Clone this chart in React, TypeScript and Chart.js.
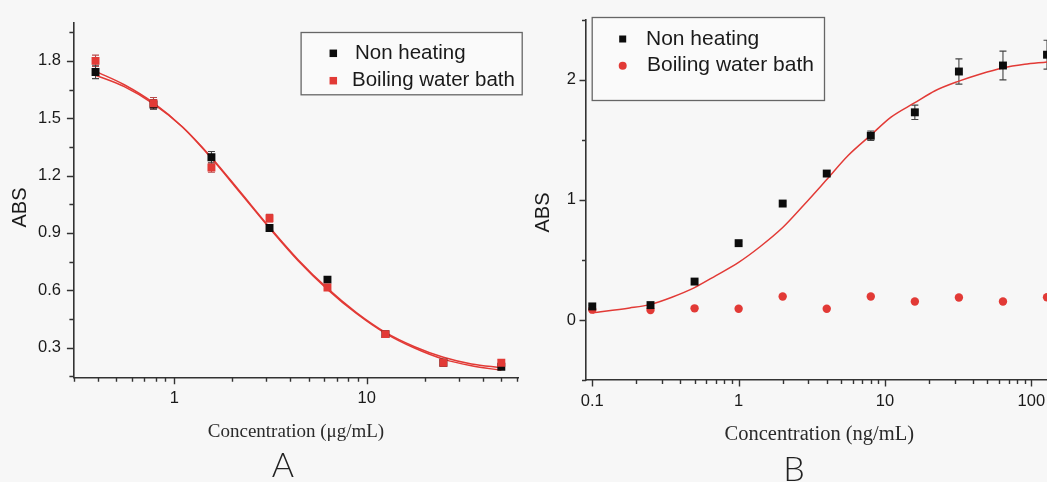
import React, { useEffect, useRef } from "react";
import { Chart, registerables } from "chart.js";

Chart.register(...registerables);

// ---------------- Panel A data (µg/mL) ----------------
const concA = [0.39, 0.78, 1.56, 3.125, 6.25, 12.5, 25, 50];
const absA_nonHeating = [1.742, 1.572, 1.296, 0.926, 0.656, 0.371, 0.221, 0.2];
const errA_nonHeating = [0.035, 0.025, 0.03, 0.015, 0.012, 0.01, 0.01, 0.01];
const absA_boiling = [1.8, 1.578, 1.242, 0.977, 0.615, 0.371, 0.221, 0.221];
const errA_boiling = [0.03, 0.03, 0.025, 0.02, 0.015, 0.01, 0.015, 0.015];
const fitA_x = [0.39, 0.55, 0.78, 1.1, 1.56, 2.2, 3.125, 4.4, 6.25, 8.8, 12.5, 17.7, 25, 35, 50];
const fitA_nonHeating = [1.725, 1.665, 1.575, 1.455, 1.295, 1.115, 0.93, 0.76, 0.61, 0.485, 0.38, 0.305, 0.25, 0.215, 0.195];
const fitA_boiling = [1.745, 1.675, 1.58, 1.455, 1.29, 1.11, 0.925, 0.755, 0.605, 0.48, 0.375, 0.298, 0.24, 0.205, 0.182];
const yTicksA = [0.3, 0.6, 0.9, 1.2, 1.5, 1.8];
const xTicksA = [1, 10];

// ---------------- Panel B data (ng/mL) ----------------
const concB = [0.1, 0.25, 0.5, 1, 2, 4, 8, 16, 32, 64, 128];
const absB_nonHeating = [0.113, 0.124, 0.32, 0.64, 0.97, 1.22, 1.535, 1.73, 2.07, 2.12, 2.21];
const errB_nonHeating = [0.01, 0.01, 0.015, 0.015, 0.015, 0.02, 0.04, 0.06, 0.105, 0.12, 0.12];
const absB_boiling = [0.086, 0.083, 0.097, 0.094, 0.196, 0.094, 0.196, 0.154, 0.187, 0.154, 0.19];
const fitB_x = [0.1, 0.18, 0.25, 0.35, 0.5, 0.7, 1, 1.4, 2, 2.8, 4, 5.6, 8, 11, 16, 22, 32, 45, 64, 90, 128, 150];
const fitB_y = [0.06, 0.1, 0.13, 0.19, 0.27, 0.37, 0.48, 0.61, 0.77, 0.96, 1.17, 1.37, 1.54, 1.69, 1.81, 1.91, 1.99, 2.05, 2.1, 2.13, 2.15, 2.16];
const yTicksB = [0, 1, 2];
const xTicksB = [0.1, 1, 10, 100];

const LABEL_NH = "Non heating";
const LABEL_BW = "Boiling water bath";

const RED = "#e23a36";
const BLACK = "#0c0c0c";
const AXIS = "#333333";
const TEXT = "#1a1a1a";

const zip = (xs: number[], ys: number[]) => xs.map((x, i) => ({ x, y: ys[i] }));

function logMinors(min: number, max: number) {
  const out: number[] = [];
  for (let e = -3; e <= 3; e++) {
    for (let m = 1; m <= 9; m++) {
      const v = m * Math.pow(10, e);
      if (m !== 1 && v >= min * 0.999 && v <= max * 1.001) out.push(+v.toPrecision(6));
    }
  }
  return out;
}
function linMinors(min: number, max: number, step: number, offset: number) {
  const out: number[] = [];
  for (let v = offset; v <= max + 1e-9; v += step) if (v >= min - 1e-9) out.push(+v.toFixed(6));
  return out;
}

const errorBarPlugin = {
  id: "errorBars",
  beforeDatasetsDraw(chart: any) {
    const ctx = chart.ctx;
    const xs = chart.scales.x;
    const ys = chart.scales.y;
    chart.data.datasets.forEach((ds: any, i: number) => {
      const errs = ds.errors;
      if (!errs || !chart.isDatasetVisible(i)) return;
      ctx.save();
      ctx.strokeStyle = ds.errorColor || "#555";
      ctx.lineWidth = 1.1;
      ctx.beginPath();
      ds.data.forEach((p: any, j: number) => {
        const e = errs[j];
        if (!e) return;
        const px = xs.getPixelForValue(p.x);
        const y1 = ys.getPixelForValue(p.y + e);
        const y2 = ys.getPixelForValue(p.y - e);
        ctx.moveTo(px, y1);
        ctx.lineTo(px, y2);
        ctx.moveTo(px - 3.5, y1);
        ctx.lineTo(px + 3.5, y1);
        ctx.moveTo(px - 3.5, y2);
        ctx.lineTo(px + 3.5, y2);
      });
      ctx.stroke();
      ctx.restore();
    });
  },
};

const axisTicksPlugin = {
  id: "axisTicks",
  afterDraw(chart: any, _args: any, opts: any) {
    const { ctx, chartArea } = chart;
    const xs = chart.scales.x;
    const ys = chart.scales.y;
    ctx.save();
    ctx.strokeStyle = AXIS;
    ctx.lineWidth = 1.4;
    ctx.beginPath();
    const b = chartArea.bottom;
    const l = chartArea.left;
    (opts.xMajor || []).forEach((v: number) => {
      const p = Math.round(xs.getPixelForValue(v)) + 0.5;
      ctx.moveTo(p, b);
      ctx.lineTo(p, b + 6.5);
    });
    (opts.xMinor || []).forEach((v: number) => {
      const p = Math.round(xs.getPixelForValue(v)) + 0.5;
      ctx.moveTo(p, b);
      ctx.lineTo(p, b + 4);
    });
    (opts.yMajor || []).forEach((v: number) => {
      const p = Math.round(ys.getPixelForValue(v)) + 0.5;
      ctx.moveTo(l, p);
      ctx.lineTo(l - 6.5, p);
    });
    (opts.yMinor || []).forEach((v: number) => {
      const p = Math.round(ys.getPixelForValue(v)) + 0.5;
      ctx.moveTo(l, p);
      ctx.lineTo(l - 4, p);
    });
    ctx.stroke();
    ctx.restore();
  },
};

const textsPlugin = {
  id: "panelTexts",
  afterDraw(chart: any, _args: any, opts: any) {
    const ctx = chart.ctx;
    (opts.items || []).forEach((t: any) => {
      ctx.save();
      ctx.translate(t.x, t.y);
      if (t.rotation) ctx.rotate(t.rotation);
      ctx.font = t.font;
      ctx.fillStyle = t.color || TEXT;
      ctx.textAlign = "center";
      ctx.textBaseline = "middle";
      ctx.fillText(t.text, 0, 0);
      ctx.restore();
    });
  },
};

const boxLegendPlugin = {
  id: "boxLegend",
  afterDraw(chart: any, _args: any, opts: any) {
    const ctx = chart.ctx;
    const [l, t, r, b] = opts.box;
    ctx.save();
    ctx.strokeStyle = "#666";
    ctx.lineWidth = 1.3;
    ctx.fillStyle = "#fafafa";
    ctx.fillRect(l, t, r - l, b - t);
    ctx.strokeRect(l + 0.5, t + 0.5, r - l, b - t);
    opts.entries.forEach((en: any, k: number) => {
      const ds = chart.data.datasets[en.dataset];
      const y = opts.rows[k];
      const mx = opts.markerX;
      ctx.fillStyle = ds.backgroundColor;
      if (ds.pointStyle === "circle") {
        ctx.beginPath();
        ctx.arc(mx, y, en.size / 2, 0, Math.PI * 2);
        ctx.fill();
      } else {
        ctx.fillRect(mx - en.size / 2, y - en.size / 2, en.size, en.size);
      }
      ctx.fillStyle = TEXT;
      ctx.font = opts.font;
      ctx.textAlign = "left";
      ctx.textBaseline = "middle";
      ctx.fillText(ds.label, en.textX, y);
    });
    ctx.restore();
  },
};

function makeOptions(cfg: any) {
  return {
    responsive: false,
    animation: false,
    events: [],
    layout: { padding: cfg.padding },
    plugins: {
      legend: { display: false },
      tooltip: { enabled: false },
      axisTicks: cfg.ticks,
      panelTexts: { items: cfg.texts },
      boxLegend: cfg.legend,
    },
    scales: {
      x: {
        type: "logarithmic",
        min: cfg.xMin,
        max: cfg.xMax,
        grid: { display: false, drawTicks: false },
        border: { display: true, color: AXIS, width: 1.6 },
        afterFit: (s: any) => {
          s.height = cfg.xAxisHeight;
        },
        afterBuildTicks: (s: any) => {
          s.ticks = cfg.xMajor.map((v: number) => ({ value: v }));
        },
        ticks: {
          autoSkip: false,
          maxRotation: 0,
          padding: cfg.xPad,
          color: TEXT,
          font: { family: "'Liberation Sans', Arial, sans-serif", size: 16.5 },
          callback: (v: any) => String(v),
        },
      },
      y: {
        type: "linear",
        min: cfg.yMin,
        max: cfg.yMax,
        grid: { display: false, drawTicks: false },
        border: { display: true, color: AXIS, width: 1.6 },
        afterFit: (s: any) => {
          s.width = cfg.yAxisWidth;
        },
        afterBuildTicks: (s: any) => {
          s.ticks = cfg.yMajor.map((v: number) => ({ value: v }));
        },
        ticks: {
          autoSkip: false,
          padding: cfg.yPad,
          color: TEXT,
          font: { family: "'Liberation Sans', Arial, sans-serif", size: 16.5 },
          callback: (v: any) => String(v),
        },
      },
    },
  };
}

export default function App() {
  const refA = useRef<HTMLCanvasElement | null>(null);
  const refB = useRef<HTMLCanvasElement | null>(null);

  useEffect(() => {
    if (!refA.current || !refB.current) return;

    const chartA = new Chart(refA.current, {
      type: "scatter",
      data: {
        datasets: [
          {
            label: LABEL_BW,
            data: zip(concA, absA_boiling),
            pointStyle: "rect",
            pointRadius: 5.6,
            backgroundColor: RED,
            borderColor: RED,
            borderWidth: 0,
            errors: errA_boiling,
            errorColor: "#b84a4a",
          } as any,
          {
            label: LABEL_NH,
            data: zip(concA, absA_nonHeating),
            pointStyle: "rect",
            pointRadius: 5.6,
            backgroundColor: BLACK,
            borderColor: BLACK,
            borderWidth: 0,
            errors: errA_nonHeating,
            errorColor: "#444",
          } as any,
          {
            label: "fit NH",
            data: zip(fitA_x, fitA_nonHeating),
            showLine: true,
            pointRadius: 0,
            borderColor: RED,
            borderWidth: 1.5,
            cubicInterpolationMode: "monotone",
          },
          {
            label: "fit BW",
            data: zip(fitA_x, fitA_boiling),
            showLine: true,
            pointRadius: 0,
            borderColor: RED,
            borderWidth: 1.5,
            cubicInterpolationMode: "monotone",
          },
        ],
      },
      options: makeOptions({
        padding: { left: 0, right: 4, top: 15, bottom: 0 },
        xMin: 0.2993,
        xMax: 61.33,
        yMin: 0.143,
        yMax: 2.001,
        xAxisHeight: 104.3,
        yAxisWidth: 73.4,
        xPad: 11,
        yPad: 12.5,
        xMajor: xTicksA,
        yMajor: yTicksA,
        ticks: {
          xMajor: xTicksA,
          xMinor: logMinors(0.2993, 61.33),
          yMajor: yTicksA,
          yMinor: linMinors(0.143, 2.001, 0.3, 0.15),
        },
        texts: [
          { text: "ABS", x: 20, y: 207.5, rotation: -Math.PI / 2, font: "20px 'Liberation Sans', Arial, sans-serif" },
          { text: "Concentration (\u03bcg/mL)", x: 296, y: 432, font: "19px 'Liberation Serif', 'Times New Roman', serif", color: "#2a2a2a" },
          { text: "A", x: 283, y: 466, font: "300 34px Lato, 'Liberation Sans', sans-serif", color: "#222" },
        ],
        legend: {
          box: [300.6, 32, 521.7, 94.3],
          rows: [53.3, 80.7],
          markerX: 333.3,
          font: "20.5px 'Liberation Sans', Arial, sans-serif",
          entries: [
            { dataset: 1, size: 7.5, textX: 355 },
            { dataset: 0, size: 7.5, textX: 352 },
          ],
        },
      }) as any,
      plugins: [errorBarPlugin, axisTicksPlugin, textsPlugin, boxLegendPlugin],
    });

    const chartB = new Chart(refB.current, {
      type: "scatter",
      data: {
        datasets: [
          {
            label: LABEL_NH,
            data: zip(concB, absB_nonHeating),
            pointStyle: "rect",
            pointRadius: 5.6,
            backgroundColor: BLACK,
            borderColor: BLACK,
            borderWidth: 0,
            errors: errB_nonHeating,
            errorColor: "#444",
          } as any,
          {
            label: LABEL_BW,
            data: zip(concB, absB_boiling),
            pointStyle: "circle",
            pointRadius: 4.2,
            backgroundColor: RED,
            borderColor: RED,
            borderWidth: 0,
          },
          {
            label: "fit",
            data: zip(fitB_x, fitB_y),
            showLine: true,
            pointRadius: 0,
            borderColor: RED,
            borderWidth: 1.5,
            cubicInterpolationMode: "monotone",
          },
        ],
      },
      options: makeOptions({
        padding: { left: 0, right: 22.9, top: 16, bottom: 0 },
        xMin: 0.0906,
        xMax: 150,
        yMin: -0.5,
        yMax: 2.5,
        xAxisHeight: 102,
        yAxisWidth: 62,
        xPad: 12,
        yPad: 10,
        xMajor: xTicksB,
        yMajor: yTicksB,
        ticks: {
          xMajor: xTicksB,
          xMinor: logMinors(0.0906, 150),
          yMajor: yTicksB,
          yMinor: linMinors(-0.5, 2.5, 1, -0.5),
        },
        texts: [
          { text: "ABS", x: 19.5, y: 212.5, rotation: -Math.PI / 2, font: "20px 'Liberation Sans', Arial, sans-serif" },
          { text: "Concentration (ng/mL)", x: 295.3, y: 435, font: "20.5px 'Liberation Serif', 'Times New Roman', serif", color: "#2a2a2a" },
          { text: "B", x: 270, y: 470, font: "300 34px Lato, 'Liberation Sans', sans-serif", color: "#222" },
        ],
        legend: {
          box: [67.7, 17, 300, 100],
          rows: [39, 65.7],
          markerX: 98.7,
          font: "21px 'Liberation Sans', Arial, sans-serif",
          entries: [
            { dataset: 0, size: 7, textX: 122 },
            { dataset: 1, size: 8, textX: 123 },
          ],
        },
      }) as any,
      plugins: [errorBarPlugin, axisTicksPlugin, textsPlugin, boxLegendPlugin],
    });

    return () => {
      chartA.destroy();
      chartB.destroy();
    };
  }, []);

  return (
    <div
      style={{
        position: "fixed",
        left: 0,
        top: 0,
        width: 1047,
        height: 482,
        overflow: "hidden",
        background: "#f7f7f7",
      }}
    >
      <canvas ref={refA} width={524} height={482} style={{ position: "absolute", left: 0, top: 0 }} />
      <canvas ref={refB} width={556} height={482} style={{ position: "absolute", left: 524, top: 0 }} />
    </div>
  );
}
